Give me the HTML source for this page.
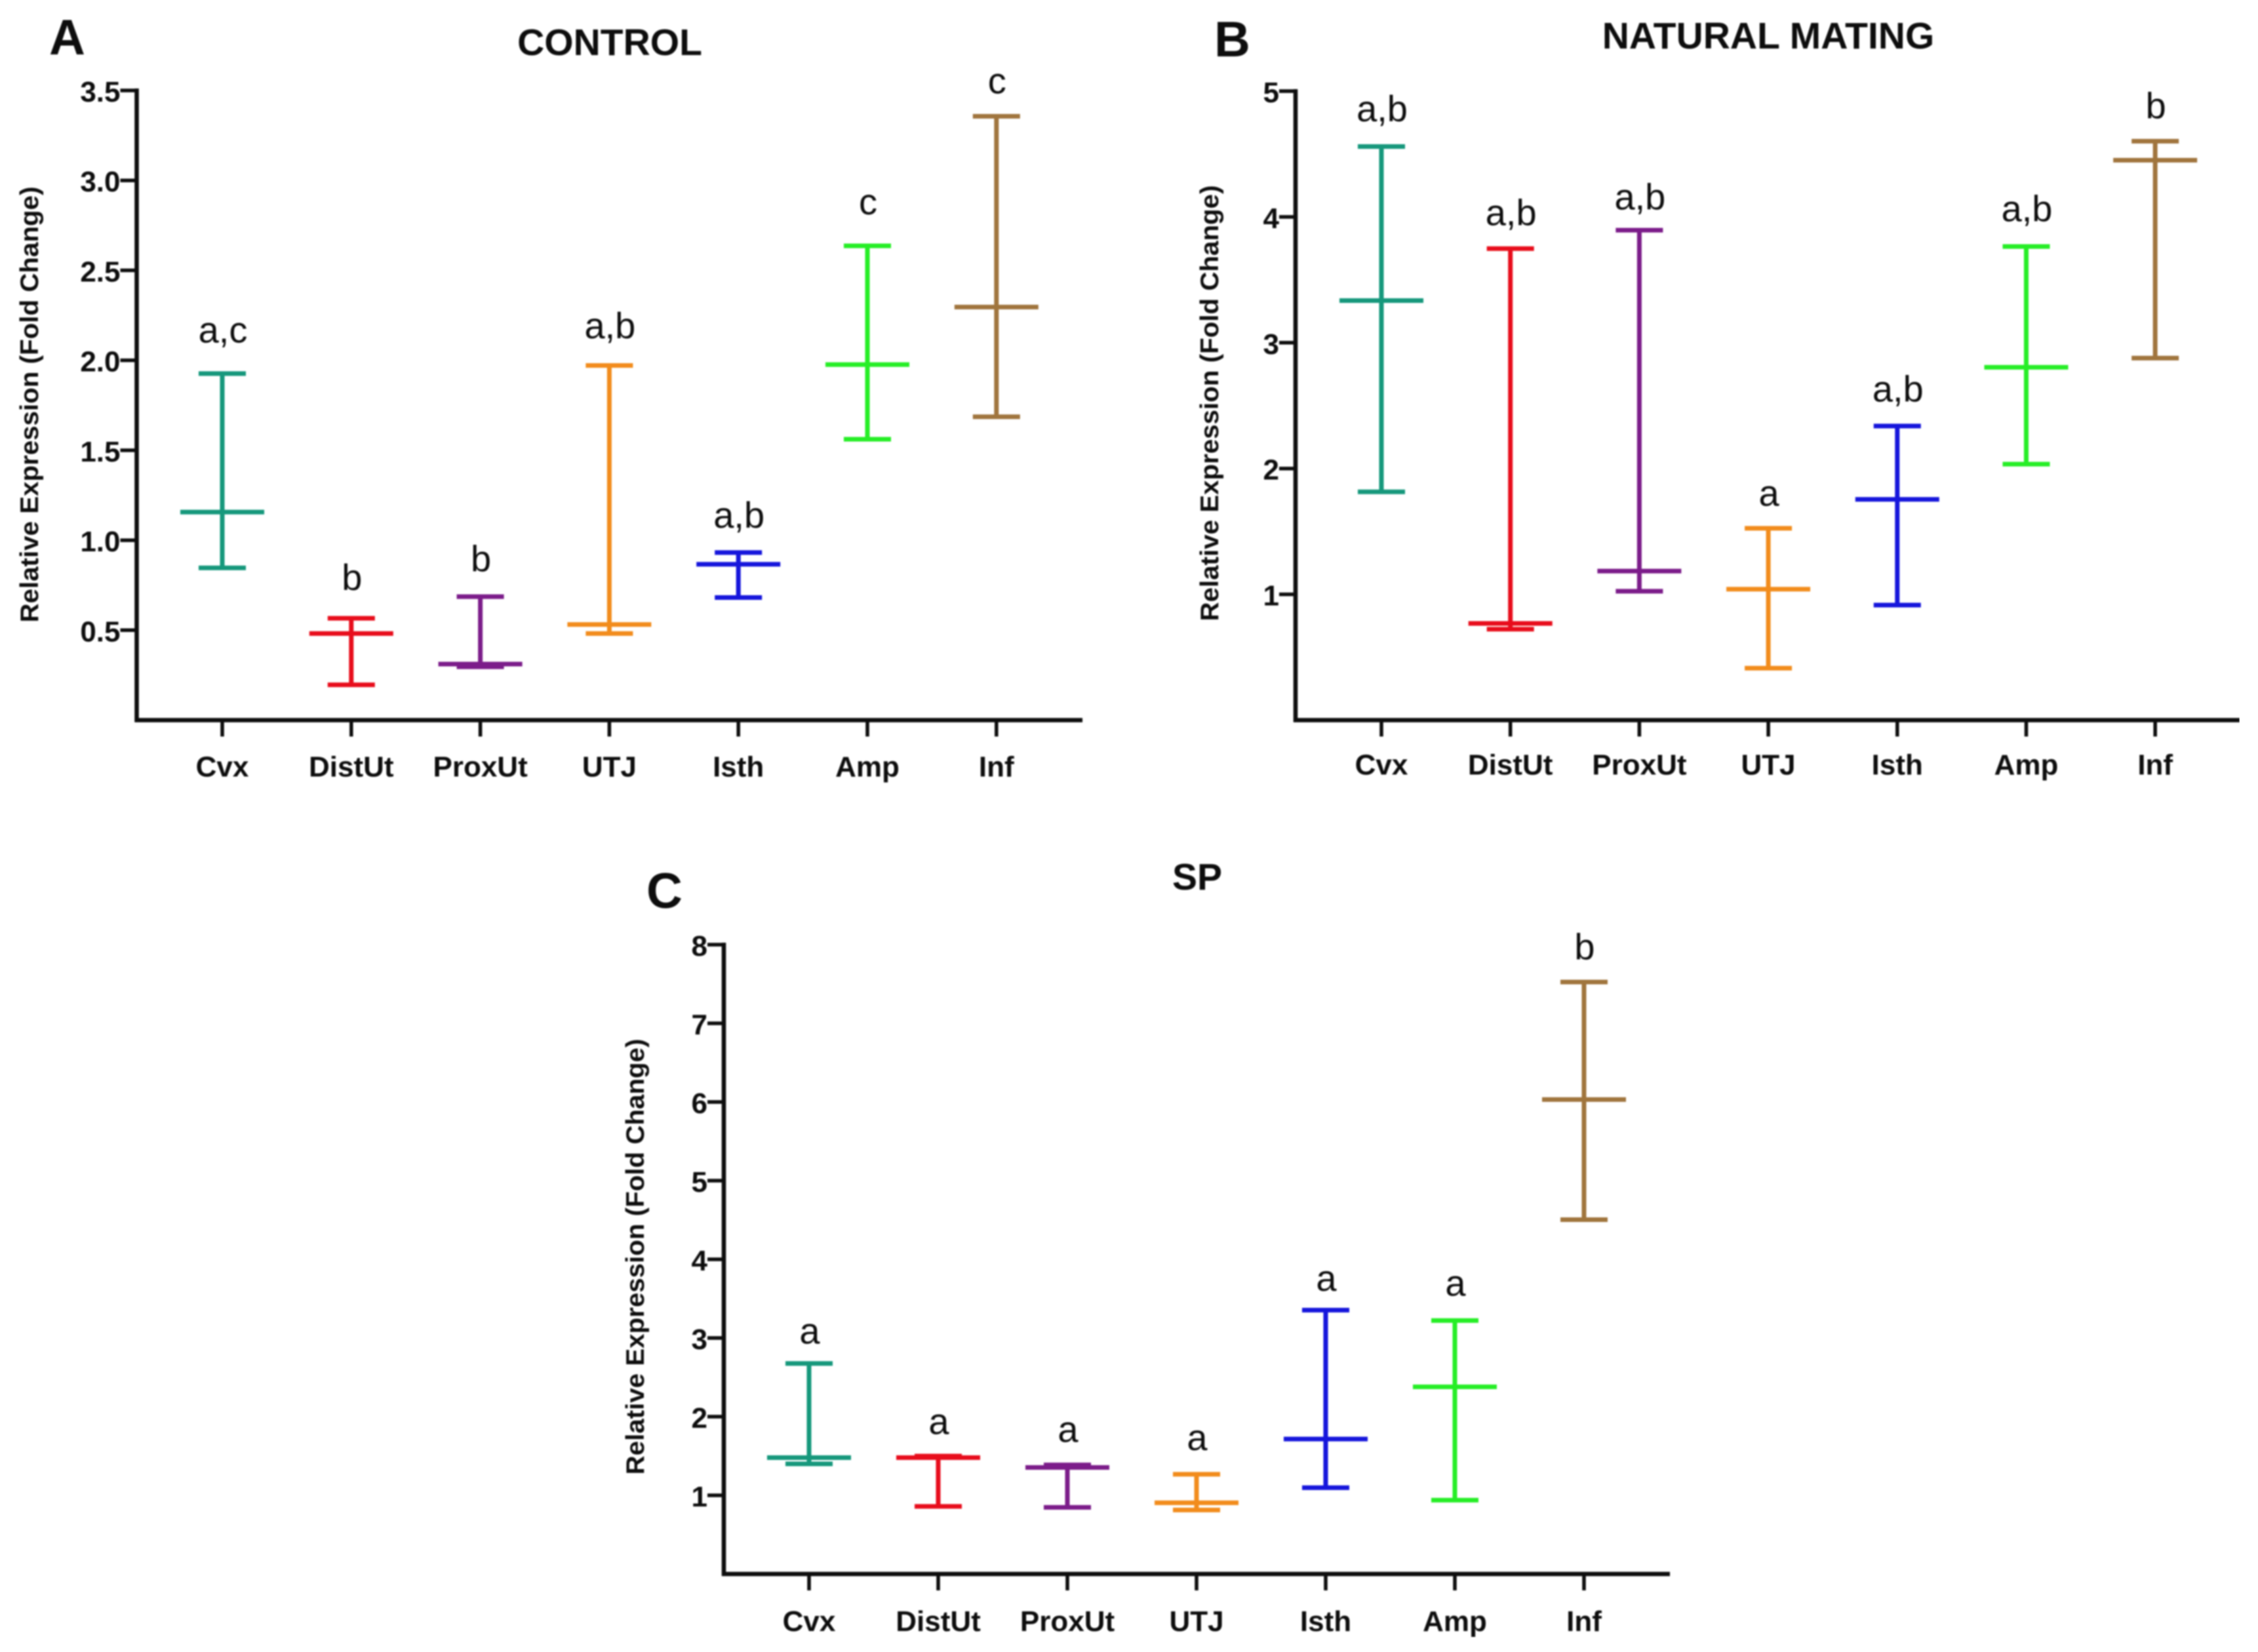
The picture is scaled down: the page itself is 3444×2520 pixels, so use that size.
<!DOCTYPE html>
<html lang="en">
<head>
<meta charset="utf-8">
<title>Relative expression by tissue</title>
<style>
  html, body { margin: 0; padding: 0; background: #fff; }
  svg { display: block; }
  text { font-family: "Liberation Sans", Arial, sans-serif; fill: #0c0c0c; }
  .panel-letter { font-size: 76px; font-weight: 700; }
  .title { font-size: 57px; font-weight: 700; text-anchor: middle; }
  .tick { font-size: 44px; font-weight: 700; }
  .ytitle { font-size: 39px; font-weight: 700; text-anchor: middle; }
  .sig { font-size: 56px; font-weight: 400; text-anchor: middle; }
</style>
</head>
<body>
<svg id="figure" xmlns="http://www.w3.org/2000/svg" width="3444" height="2520" viewBox="0 0 3444 2520">
  <defs><filter id="soft" x="0" y="0" width="100%" height="100%"><feGaussianBlur stdDeviation="1"/></filter></defs>
  <rect x="0" y="0" width="3444" height="2520" fill="#ffffff"/>
  <g id="root" filter="url(#soft)">
    <text class="panel-letter" x="75" y="83">A</text>
    <text class="title" x="930" y="84">CONTROL</text>
    <text class="ytitle" transform="translate(58,617) rotate(-90)" textLength="665" lengthAdjust="spacingAndGlyphs">Relative Expression (Fold Change)</text>

    <text class="panel-letter" x="1852" y="86">B</text>
    <text class="title" x="2697" y="74">NATURAL MATING</text>
    <text class="ytitle" transform="translate(1858,615) rotate(-90)" textLength="665" lengthAdjust="spacingAndGlyphs">Relative Expression (Fold Change)</text>

    <text class="panel-letter" x="986" y="1385">C</text>
    <text class="title" x="1826" y="1357">SP</text>
    <text class="ytitle" transform="translate(982,1917) rotate(-90)" textLength="665" lengthAdjust="spacingAndGlyphs">Relative Expression (Fold Change)</text>
  </g>
</svg>
<script>
const categories = ["Cvx", "DistUt", "ProxUt", "UTJ", "Isth", "Amp", "Inf"];
const seriesColors = ["#16987c", "#e8101c", "#7c1a8a", "#f28c1e", "#1212dc", "#28ee28", "#a0743c"];

const controlTickValues = [0.5, 1.0, 1.5, 2.0, 2.5, 3.0, 3.5];
const controlTickLabels = ["0.5", "1.0", "1.5", "2.0", "2.5", "3.0", "3.5"];
const controlHigh = [1.93, 0.57, 0.69, 1.975, 0.935, 2.64, 3.36];
const controlMean = [1.16, 0.485, 0.315, 0.535, 0.87, 1.98, 2.30];
const controlLow = [0.85, 0.20, 0.30, 0.485, 0.685, 1.565, 1.69];
const controlSigLetters = ["a,c", "b", "b", "a,b", "a,b", "c", "c"];
const controlSigLevel = [2.107, 0.731, 0.834, 2.13, 1.077, 2.818, 3.49];

const matingTickValues = [1, 2, 3, 4, 5];
const matingTickLabels = ["1", "2", "3", "4", "5"];
const matingHigh = [4.565, 3.753, 3.90, 1.53, 2.343, 3.77, 4.607];
const matingMean = [3.34, 0.774, 1.19, 1.046, 1.76, 2.81, 4.456];
const matingLow = [1.82, 0.728, 1.03, 0.418, 0.92, 2.04, 2.883];
const matingSigLetters = ["a,b", "a,b", "a,b", "a", "a,b", "a,b", "b"];
const matingSigLevel = [4.77, 3.946, 4.07, 1.715, 2.544, 3.975, 4.795];

const spTickValues = [1, 2, 3, 4, 5, 6, 7, 8];
const spTickLabels = ["1", "2", "3", "4", "5", "6", "7", "8"];
const spHigh = [2.684, 1.507, 1.395, 1.276, 3.362, 3.23, 7.533];
const spMean = [1.487, 1.487, 1.362, 0.914, 1.724, 2.388, 6.04];
const spLow = [1.408, 0.868, 0.855, 0.822, 1.105, 0.947, 4.513];
const spSigLetters = ["a", "a", "a", "a", "a", "a", "b"];
const spSigLevel = [2.947, 1.796, 1.697, 1.592, 3.618, 3.553, 7.83];

const SVG_NS = "http://www.w3.org/2000/svg";
const root = document.getElementById("root");

function makeLine(parent, x1, y1, x2, y2, stroke, width) {
  const el = document.createElementNS(SVG_NS, "line");
  el.setAttribute("x1", x1);
  el.setAttribute("y1", y1);
  el.setAttribute("x2", x2);
  el.setAttribute("y2", y2);
  el.setAttribute("stroke", stroke);
  el.setAttribute("stroke-width", width);
  parent.appendChild(el);
  return el;
}

function makeText(parent, x, y, cls, anchor, content) {
  const el = document.createElementNS(SVG_NS, "text");
  el.setAttribute("x", x);
  el.setAttribute("y", y);
  el.setAttribute("class", cls);
  el.setAttribute("text-anchor", anchor);
  el.textContent = content;
  parent.appendChild(el);
  return el;
}

function drawPanel(panel, tickValues, tickLabels, high, mean, low, sigLetters, sigLevel) {
  const g = document.createElementNS(SVG_NS, "g");
  
  
  root.appendChild(g);

  const yMax = tickValues[tickValues.length - 1];
  const yScale = function (v) {
    return panel.yBottom - (v / yMax) * (panel.yBottom - panel.yTop);
  };
  const xScale = function (i) {
    return panel.xFirst + i * panel.xStep;
  };
  const axisColor = "#0a0a0a";

  const yAxis = makeLine(g, panel.axisX, panel.yTop - 3, panel.axisX, panel.yBottom + 3, axisColor, 6.5);
  
  

  const xAxis = makeLine(g, panel.axisX - 3, panel.yBottom, panel.axisEnd, panel.yBottom, axisColor, 6.5);
  
  

  tickValues.forEach(function (v, i) {
    const ty = yScale(v);
    const tick = makeLine(g, panel.axisX - 25, ty, panel.axisX, ty, axisColor, 5.5);
    
    
    const label = makeText(g, panel.axisX - 25, ty + 17, "tick", "end", tickLabels[i]);
    
    
  });

  categories.forEach(function (name, i) {
    const cx = xScale(i);
    const color = seriesColors[i];
    const slug = name.toLowerCase() + "-" + panel.id;

    const tick = makeLine(g, cx, panel.yBottom, cx, panel.yBottom + 25, axisColor, 5.5);
    
    

    const label = makeText(g, cx, panel.yBottom + panel.labelGap, "tick", "middle", name);
    
    

    const whisker = makeLine(g, cx, yScale(high[i]), cx, yScale(low[i]), color, 7);
    
    

    const capHigh = makeLine(g, cx - 36, yScale(high[i]) + 1, cx + 36, yScale(high[i]) + 1, color, 7);
    
    

    const capLow = makeLine(g, cx - 36, yScale(low[i]) + 1, cx + 36, yScale(low[i]) + 1, color, 7);
    
    

    const meanLine = makeLine(g, cx - 64, yScale(mean[i]) + 1, cx + 64, yScale(mean[i]) + 1, color, 7);
    
    

    const sig = makeText(g, cx + 1, yScale(sigLevel[i]) + 2, "sig", "middle", sigLetters[i]);
    
    
  });
}

drawPanel({ id: "control", axisX: 208.5, axisEnd: 1651, yTop: 138, yBottom: 1098.5, xFirst: 339, xStep: 196.8, labelGap: 86 },
  controlTickValues, controlTickLabels, controlHigh, controlMean, controlLow, controlSigLetters, controlSigLevel);
drawPanel({ id: "natural-mating", axisX: 1976, axisEnd: 3416, yTop: 139, yBottom: 1098.5, xFirst: 2107, xStep: 196.7, labelGap: 83 },
  matingTickValues, matingTickLabels, matingHigh, matingMean, matingLow, matingSigLetters, matingSigLevel);
drawPanel({ id: "sp", axisX: 1104, axisEnd: 2547, yTop: 1441, yBottom: 2401, xFirst: 1234, xStep: 197, labelGap: 87 },
  spTickValues, spTickLabels, spHigh, spMean, spLow, spSigLetters, spSigLevel);
</script>
</body>
</html>
